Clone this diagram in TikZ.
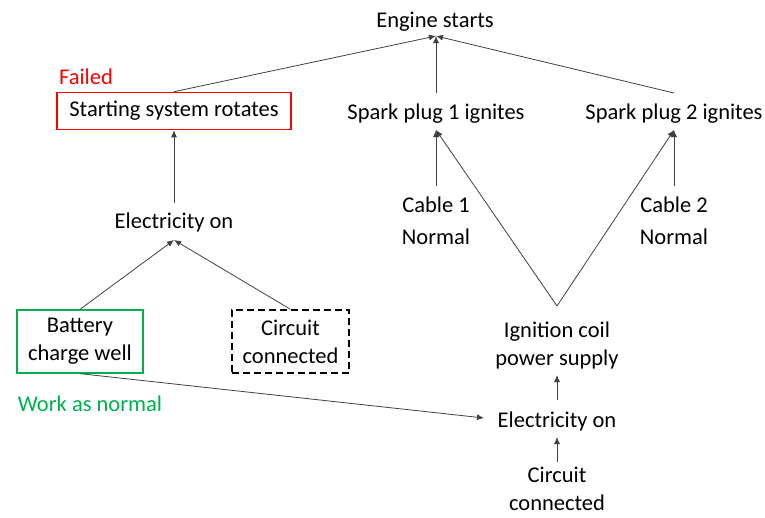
\documentclass[tikz,border=0pt]{standalone}
\usepackage{fontspec}
\setmainfont{Carlito}
\usetikzlibrary{arrows.meta}
\definecolor{failred}{RGB}{255,0,0}
\definecolor{okgreen}{RGB}{0,176,80}
\begin{document}
\begin{tikzpicture}[x=1pt,y=-1pt,
  every node/.style={font=\fontsize{22.5}{28}\selectfont, align=center, inner sep=2pt},
  txt/.style={yshift=-2pt},
  conn/.style={draw=black!75, line width=0.8pt, -{Latex[length=7pt,width=6pt]}},
  failbox/.style={draw=failred, line width=1.6pt, minimum width=234pt, minimum height=37pt, text depth=4pt, text height=15pt},
  okbox/.style={draw=okgreen, line width=1.3pt, minimum width=126pt, minimum height=63pt},
  dashbox/.style={draw=black, line width=1.4pt, dash pattern=on 7pt off 4pt, minimum width=117pt, minimum height=63pt}]
\useasboundingbox (0,0) rectangle (765,517);
\node[txt] (es) at (435,20) {Engine starts};
\coordinate (esb) at (436,36);
\node[txt,text=failred] (fail) at (86,75) {Failed};
\node[failbox] (ssr) at (174,111) {Starting system rotates};
\node[txt] (sp1) at (436,112) {Spark plug 1 ignites};
\node[txt] (sp2) at (674,112) {Spark plug 2 ignites};
\node[txt] (el1) at (174,220) {Electricity on};
\node[txt,font=\fontsize{22.5}{32}\selectfont] (c1) at (436,219) {Cable 1\\Normal};
\node[txt,font=\fontsize{22.5}{32}\selectfont] (c2) at (674,219) {Cable 2\\Normal};
\node[okbox] (bat) at (80,341.5) {Battery\\charge well};
\node[dashbox] (cc1) at (290.5,341.5) {Circuit\\connected};
\node[txt,text=okgreen] (won) at (90,402) {Work as normal};
\node[txt] (ign) at (557,343) {Ignition coil\\power supply};
\node[txt] (el2) at (557,419) {Electricity on};
\node[txt] (cc2) at (557,487) {Circuit\\connected};
\coordinate (sp1b) at (436,130);
\coordinate (sp2b) at (674,130);
\coordinate (el1t) at (174,240);
\coordinate (ignt) at (557,306);
\coordinate (ignb) at (557,375);
\coordinate (el2t) at (557,400);
\coordinate (el2b) at (557,437);
\coordinate (el2w) at (484,418);
\coordinate (cc2t) at (557,462);
\coordinate (el1tt) at (174,203);
\coordinate (c1t) at (436,186);
\coordinate (c2t) at (674,186);
\coordinate (sp1t) at (436,93);
\coordinate (sp2t) at (674,93);
\draw[conn] (ssr.north) -- (esb);
\draw[conn] (sp1t) -- (esb);
\draw[conn] (sp2t) -- (esb);
\draw[conn] (el1tt) -- (ssr.south);
\draw[conn] (bat.north) -- (el1t);
\draw[conn] (cc1.north) -- (el1t);
\draw[conn] (c1t) -- (sp1b);
\draw[conn] (c2t) -- (sp2b);
\draw[conn] (ignt) -- (sp1b);
\draw[conn] (ignt) -- (sp2b);
\draw[conn] (bat.south) -- (el2w);
\draw[conn] (el2t) -- (ignb);
\draw[conn] (cc2t) -- (el2b);
\end{tikzpicture}
\end{document}
